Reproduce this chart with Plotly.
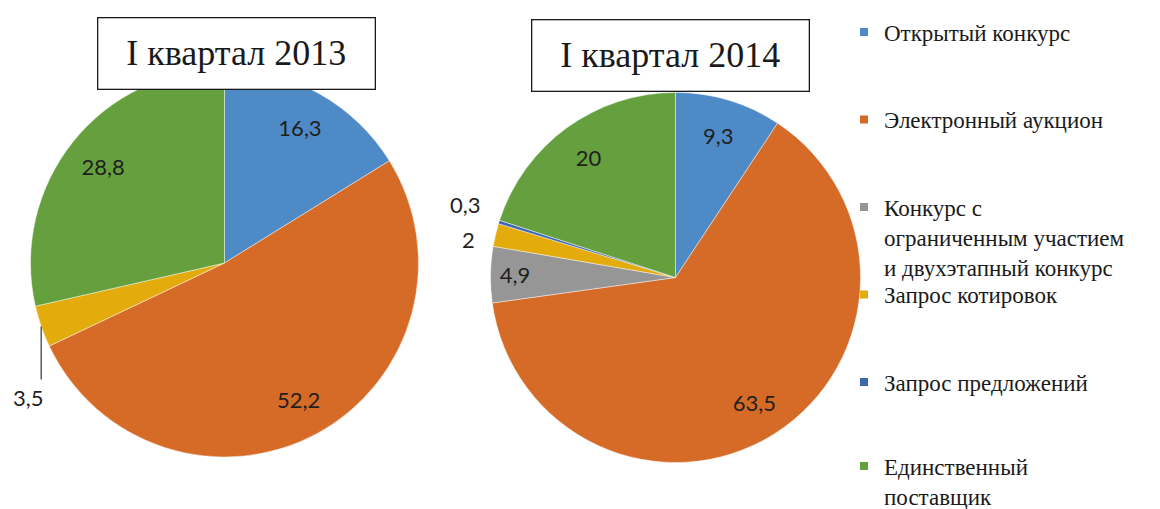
import math
import plotly.graph_objects as go

# ---------------- data ----------------
categories = [
    "Открытый конкурс",
    "Электронный аукцион",
    "Конкурс с<br>ограниченным участием<br>и двухэтапный конкурс",
    "Запрос котировок",
    "Запрос предложений",
    "Единственный<br>поставщик",
]
colors = ["#4E8AC6", "#D66A27", "#969696", "#E3AC0C", "#3D66B0", "#66A03E"]

labels_2013 = ["Открытый конкурс", "Электронный аукцион", "Запрос котировок", "Единственный<br>поставщик"]
values_2013 = [16.3, 52.2, 3.5, 28.8]

labels_2014 = categories
values_2014 = [9.3, 63.5, 4.9, 2, 0.3, 20]

titles = ["I квартал 2013", "I квартал 2014"]

# ---------------- layout constants ----------------
W, H = 1160, 509
dom_2013 = dict(x=[30.5 / W, 418.5 / W], y=[1 - 457 / H, 1 - 69 / H])
dom_2014 = dict(x=[490.5 / W, 860.5 / W], y=[1 - 462.5 / H, 1 - 92.5 / H])

color_of = {c: col for c, col in zip(categories, colors)}
LABEL_FONT = dict(family="Lato", size=22, color="#1f1f1f")
SERIF = "Liberation Serif"


def fmt(v):
    return f"{v:g}".replace(".", ",")


def pie_geom(dom):
    cx = (dom["x"][0] + dom["x"][1]) / 2 * W
    cy = (1 - (dom["y"][0] + dom["y"][1]) / 2) * H
    r = min((dom["x"][1] - dom["x"][0]) * W, (dom["y"][1] - dom["y"][0]) * H) / 2
    return cx, cy, r


def edge_point(dom, values, idx):
    cx, cy, r = pie_geom(dom)
    tot = sum(values)
    mid = (sum(values[:idx]) + values[idx] / 2) / tot * 2 * math.pi
    return cx + r * math.sin(mid), cy - r * math.cos(mid)


small_thr = 4
fig = go.Figure()

# right pie first so legend order follows full category list
for labels, values, dom in [(labels_2014, values_2014, dom_2014), (labels_2013, values_2013, dom_2013)]:
    cols = [color_of[l] for l in labels]
    fig.add_trace(go.Pie(
        labels=labels, values=values, domain=dom, sort=False,
        direction="clockwise", rotation=0, textinfo="none",
        marker=dict(colors=cols, line=dict(color="rgba(255,255,255,0.55)", width=0.8)),
        showlegend=False, hoverinfo="label+value",
    ))
    # transparent ring carrying the data labels (places them ~0.8 r like the original)
    fig.add_trace(go.Pie(
        labels=labels, values=values, domain=dom, sort=False,
        direction="clockwise", rotation=0, hole=0.6,
        text=[fmt(v) for v in values], textinfo="text",
        textposition=["inside" if v >= small_thr else "none" for v in values],
        insidetextorientation="horizontal",
        insidetextfont=LABEL_FONT,
        marker=dict(colors=["rgba(0,0,0,0)"] * len(values), line=dict(width=0)),
        showlegend=False, hoverinfo="skip",
    ))

annotations = []
shapes = []

# small-slice labels
# 2013: 3,5 with vertical leader line below
i = labels_2013.index("Запрос котировок")
ex, ey = edge_point(dom_2013, values_2013, i)
shapes.append(dict(type="line", xref="paper", yref="paper",
                   x0=ex / W, x1=ex / W, y0=1 - ey / H, y1=1 - (ey + 53) / H,
                   line=dict(color="#333333", width=1.2)))
annotations.append(dict(text=fmt(values_2013[i]), xref="paper", yref="paper",
                        x=(ex - 13) / W, y=1 - (ey + 71) / H, showarrow=False,
                        font=LABEL_FONT, xanchor="center", yanchor="middle"))
# 2014: 2 and 0,3
offsets = {3: (-27, 5), 4: (-34, -17)}
for j, (dx, dy) in offsets.items():
    ex, ey = edge_point(dom_2014, values_2014, j)
    annotations.append(dict(text=fmt(values_2014[j]), xref="paper", yref="paper",
                            x=(ex + dx) / W, y=1 - (ey + dy) / H, showarrow=False,
                            font=LABEL_FONT, xanchor="center", yanchor="middle"))

# title boxes
for t, (cx, cy) in zip(titles, [(236, 53), (670.5, 55)]):
    annotations.append(dict(text=t, xref="paper", yref="paper", x=cx / W, y=1 - cy / H,
                            showarrow=False, xanchor="center", yanchor="middle",
                            width=276, height=70, borderpad=0, borderwidth=1.3,
                            bordercolor="#1a1a1a", bgcolor="white",
                            font=dict(family=SERIF, size=36, color="#1a1a1a")))

# legend: one legend per entry (evenly spaced slots like the original)
LEG_SIZE = 23
LEG_FONT = dict(family=SERIF, size=LEG_SIZE, color="#1a1a1a")
marker_y = [32, 119.5, 207, 294.5, 382, 466]
top_off = 6.5 + LEG_SIZE * 1.3 / 2
legend_layout = {}
for k, (cat, col) in enumerate(zip(categories, colors)):
    name = "legend" if k == 0 else f"legend{k + 1}"
    fig.add_trace(go.Scatter(x=[None], y=[None], mode="markers", name=cat,
                             marker=dict(symbol="square", size=8, color=col),
                             legend=name, showlegend=True, hoverinfo="skip"))
    legend_layout[name] = dict(x=844 / W, xanchor="left", y=1 - (marker_y[k] - top_off) / H,
                               yanchor="top", font=LEG_FONT, valign="top",
                               bgcolor="rgba(0,0,0,0)", borderwidth=0, itemwidth=30)

fig.update_layout(
    width=W, height=H, margin=dict(l=0, r=0, t=0, b=0, autoexpand=False),
    paper_bgcolor="white", plot_bgcolor="white",
    font=dict(family=SERIF),
    xaxis=dict(visible=False), yaxis=dict(visible=False),
    annotations=annotations, shapes=shapes, showlegend=True,
    **legend_layout,
)

fig.write_html("out.html", config={"displayModeBar": False},
               post_script="document.body.style.margin='0';")
